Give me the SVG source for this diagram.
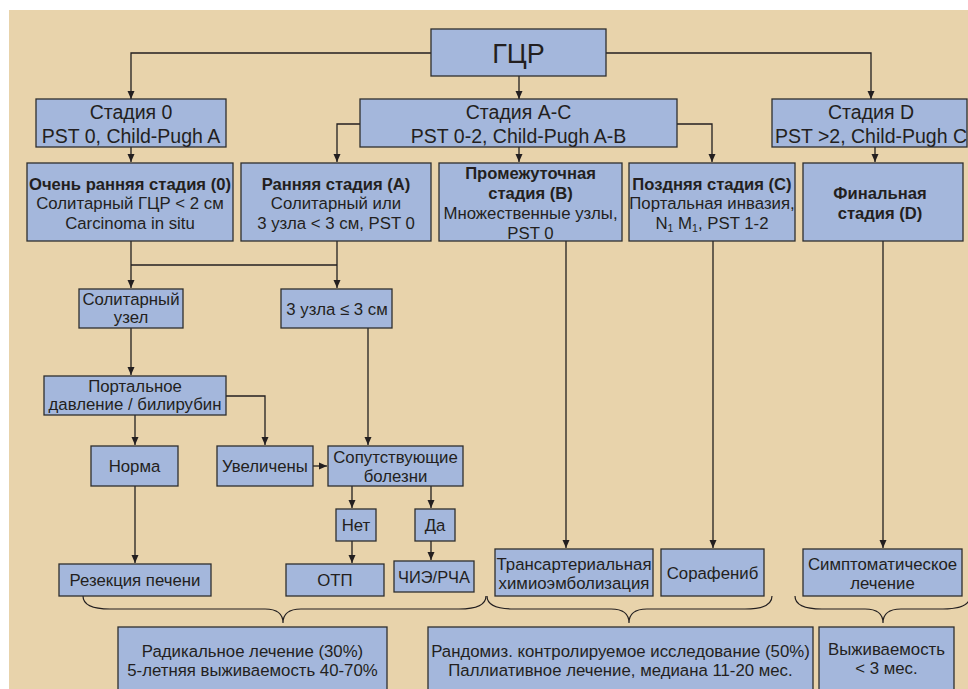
<svg xmlns="http://www.w3.org/2000/svg" width="968" height="689" viewBox="0 0 968 689">
<defs>
<marker id="ah" markerUnits="userSpaceOnUse" markerWidth="9" markerHeight="8" refX="8" refY="4" orient="auto">
<path d="M0,0.5 L8,4 L0,7.5 z" fill="#231f20"/>
</marker>
<style>
.bx{fill:#a4b7dc;stroke:#2e2e2e;stroke-width:1.3}
.t{font-family:"Liberation Sans",Arial,sans-serif;fill:#231f20;text-anchor:middle}
.t19{font-size:19.5px}
.t16{font-size:16.8px}
.b{font-weight:bold;font-size:16.6px}
.c{fill:none;stroke:#231f20;stroke-width:1.3}
.br{fill:none;stroke:#231f20;stroke-width:1.2}
</style>
</defs>
<rect x="0" y="0" width="968" height="689" fill="#ffffff"/>
<rect x="9" y="10" width="959" height="679" fill="#e8d3ab"/>

<g id="connectors">
<path class="c" d="M431,53 H131 V99" marker-end="url(#ah)"/>
<path class="c" d="M606,53 H871 V99" marker-end="url(#ah)"/>
<path class="c" d="M519,76 V99" marker-end="url(#ah)"/>
<path class="c" d="M131,147 V162" marker-end="url(#ah)"/>
<path class="c" d="M360,124 H337 V162" marker-end="url(#ah)"/>
<path class="c" d="M519,147 V162" marker-end="url(#ah)"/>
<path class="c" d="M677,124 H712 V162" marker-end="url(#ah)"/>
<path class="c" d="M875,147 V162" marker-end="url(#ah)"/>
<path class="c" d="M131,241 V288" marker-end="url(#ah)"/>
<path class="c" d="M337,241 V288" marker-end="url(#ah)"/>
<path class="c" d="M131,265 H337"/>
<path class="c" d="M131,328 V375" marker-end="url(#ah)"/>
<path class="c" d="M135,415 V445" marker-end="url(#ah)"/>
<path class="c" d="M226,396 H265 V445" marker-end="url(#ah)"/>
<path class="c" d="M368,328 V445" marker-end="url(#ah)"/>
<path class="c" d="M313,466 H327" marker-end="url(#ah)"/>
<path class="c" d="M352,486 V508" marker-end="url(#ah)"/>
<path class="c" d="M431,486 V508" marker-end="url(#ah)"/>
<path class="c" d="M352,541 V563" marker-end="url(#ah)"/>
<path class="c" d="M431,541 V560" marker-end="url(#ah)"/>
<path class="c" d="M135,486 V563" marker-end="url(#ah)"/>
<path class="c" d="M566,241 V548" marker-end="url(#ah)"/>
<path class="c" d="M713,241 V548" marker-end="url(#ah)"/>
<path class="c" d="M883,241 V548" marker-end="url(#ah)"/>
<path class="br" d="M83,596 C83,605 92,609 110,609 L265,609 C277,609 283,613 283,623 C283,613 289,609 301,609 L459,609 C477,609 486,605 486,596"/>
<path class="br" d="M487,596 C487,605 496,609 514,609 L611,609 C623,609 629,613 629,623 C629,613 635,609 647,609 L745,609 C763,609 772,605 772,596"/>
<path class="br" d="M795,596 C795,605 804,609 822,609 L865,609 C877,609 883,613 883,623 C883,613 889,609 901,609 L943,609 C961,609 970,605 970,596"/>
</g>

<g id="gcr"><rect class="bx" x="431" y="29" width="175" height="47"/><text class="t" x="518.5" y="63" font-size="27">ГЦР</text></g>

<g id="stage0"><rect class="bx" x="36" y="99" width="190" height="48"/>
<text class="t t19" x="131" y="119">Стадия 0</text><text class="t t19" x="131" y="143">PST 0, Child-Pugh A</text></g>

<g id="stageAC"><rect class="bx" x="360" y="99" width="317" height="48"/>
<text class="t t19" x="518.5" y="119">Стадия A-C</text><text class="t t19" x="518.5" y="143">PST 0-2, Child-Pugh A-B</text></g>

<g id="stageD"><rect class="bx" x="772" y="99" width="195" height="48"/>
<text class="t t19" x="871" y="119">Стадия D</text><text class="t t19" x="871" y="143">PST &gt;2, Child-Pugh C</text></g>

<g id="veryEarly"><rect class="bx" x="27" y="163" width="206" height="78"/>
<text class="t b" x="130" y="190">Очень ранняя стадия (0)</text>
<text class="t t16" x="130" y="209">Солитарный ГЦР &lt; 2 см</text>
<text class="t t16" x="130" y="229">Carcinoma in situ</text></g>

<g id="early"><rect class="bx" x="241" y="163" width="190" height="78"/>
<text class="t b" x="336" y="190">Ранняя стадия (A)</text>
<text class="t t16" x="336" y="209">Солитарный или</text>
<text class="t t16" x="336" y="229">3 узла &lt; 3 см, PST 0</text></g>

<g id="intermediate"><rect class="bx" x="439" y="163" width="183" height="78"/>
<text class="t b" x="530.5" y="179">Промежуточная</text>
<text class="t b" x="530.5" y="199">стадия (B)</text>
<text class="t t16" x="530.5" y="219">Множественные узлы,</text>
<text class="t t16" x="530.5" y="239">PST 0</text></g>

<g id="advanced"><rect class="bx" x="629" y="163" width="166" height="78"/>
<text class="t b" x="712" y="190">Поздняя стадия (С)</text>
<text class="t t16" x="712" y="209">Портальная инвазия,</text>
<text class="t t16" x="712" y="229">N<tspan font-size="10.5" dy="3">1</tspan><tspan dy="-3"> M</tspan><tspan font-size="10.5" dy="3">1</tspan><tspan dy="-3">, PST 1-2</tspan></text></g>

<g id="terminal"><rect class="bx" x="803" y="163" width="160" height="78"/>
<text class="t b" x="880" y="199">Финальная</text>
<text class="t b" x="880" y="219">стадия (D)</text></g>

<g id="solitary"><rect class="bx" x="79" y="289" width="104" height="39"/>
<text class="t t16" x="131" y="305">Солитарный</text><text class="t t16" x="131" y="323">узел</text></g>

<g id="three"><rect class="bx" x="281" y="289" width="111" height="39"/>
<text class="t t16" x="337" y="315">3 узла ≤ 3 см</text></g>

<g id="portal"><rect class="bx" x="44" y="376" width="182" height="39"/>
<text class="t t16" x="135" y="392">Портальное</text><text class="t t16" x="135" y="410">давление / билирубин</text></g>

<g id="norm"><rect class="bx" x="91" y="446" width="87" height="40"/>
<text class="t t16" x="134.5" y="472">Норма</text></g>

<g id="increased"><rect class="bx" x="217" y="446" width="96" height="40"/>
<text class="t t16" x="265" y="472">Увеличены</text></g>

<g id="comorb"><rect class="bx" x="328" y="446" width="135" height="40"/>
<text class="t t16" x="395.5" y="463">Сопутствующие</text><text class="t t16" x="395.5" y="482">болезни</text></g>

<g id="no"><rect class="bx" x="336" y="509" width="40" height="32"/>
<text class="t t16" x="356" y="531">Нет</text></g>

<g id="yes"><rect class="bx" x="415" y="509" width="40" height="32"/>
<text class="t t16" x="435" y="531">Да</text></g>

<g id="resection"><rect class="bx" x="59" y="564" width="152" height="32"/>
<text class="t t16" x="135" y="586">Резекция печени</text></g>

<g id="olt"><rect class="bx" x="286" y="564" width="98" height="32"/>
<text class="t t16" x="335" y="586">ОТП</text></g>

<g id="pei"><rect class="bx" x="394" y="561" width="80" height="31"/>
<text class="t t16" x="434" y="583" textLength="72" lengthAdjust="spacingAndGlyphs">ЧИЭ/РЧА</text></g>

<g id="tace"><rect class="bx" x="495" y="549" width="158" height="47"/>
<text class="t t16" x="574" y="570">Трансартериальная</text><text class="t t16" x="574" y="589">химиоэмболизация</text></g>

<g id="sorafenib"><rect class="bx" x="661" y="549" width="103" height="47"/>
<text class="t t16" x="712.5" y="579">Сорафениб</text></g>

<g id="symptomatic"><rect class="bx" x="803" y="549" width="159" height="47"/>
<text class="t t16" x="882.5" y="570">Симптоматическое</text><text class="t t16" x="882.5" y="589">лечение</text></g>

<g id="radical"><rect class="bx" x="118" y="627" width="269" height="80"/>
<text class="t t16" x="252.5" y="657">Радикальное лечение (30%)</text>
<text class="t t16" x="252.5" y="676">5-летняя выживаемость 40-70%</text></g>

<g id="rct"><rect class="bx" x="428" y="627" width="385" height="80"/>
<text class="t t16" x="620.5" y="657">Рандомиз. контролируемое исследование (50%)</text>
<text class="t t16" x="620.5" y="676">Паллиативное лечение, медиана 11-20 мес.</text></g>

<g id="survival"><rect class="bx" x="819" y="627" width="135" height="80"/>
<text class="t t16" x="886.5" y="655">Выживаемость</text>
<text class="t t16" x="886.5" y="674">&lt; 3 мес.</text></g>
</svg>
